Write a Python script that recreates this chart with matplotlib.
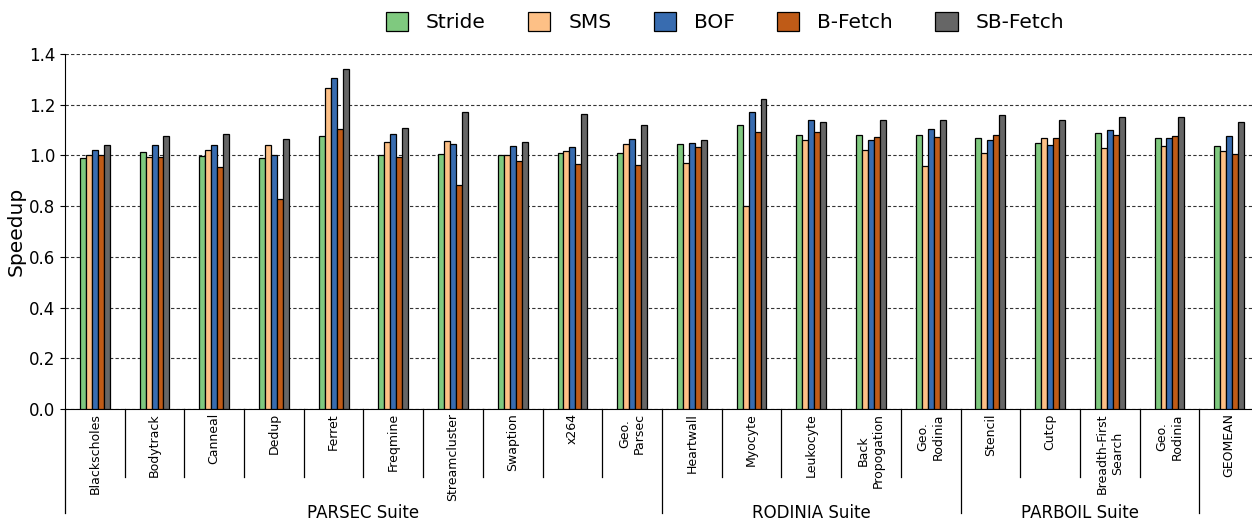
import matplotlib
matplotlib.use("Agg")
import matplotlib.pyplot as plt
import numpy as np

benchmarks = ["Blackscholes", "Bodytrack", "Canneal", "Dedup", "Ferret", "Freqmine",
              "Streamcluster", "Swaption", "x264", "Geo.\nParsec",
              "Heartwall", "Myocyte", "Leukocyte", "Back\nPropogation", "Geo.\nRodinia",
              "Stencil", "Cutcp", "Breadth-First\nSearch", "Geo.\nRodinia", "GEOMEAN"]
schemes = ["Stride", "SMS", "BOF", "B-Fetch", "SB-Fetch"]
stride = [0.991, 1.014, 0.997, 0.989, 1.075, 1.001, 1.007, 1.000, 1.011, 1.011,
          1.046, 1.121, 1.082, 1.082, 1.082, 1.070, 1.050, 1.090, 1.070, 1.038]
sms = [1.000, 0.995, 1.021, 1.040, 1.264, 1.053, 1.058, 1.000, 1.017, 1.046,
       0.971, 0.801, 1.061, 1.020, 0.958, 1.011, 1.070, 1.030, 1.037, 1.018]
bof = [1.021, 1.043, 1.041, 1.000, 1.307, 1.086, 1.046, 1.036, 1.034, 1.066,
       1.050, 1.171, 1.141, 1.062, 1.105, 1.061, 1.041, 1.101, 1.067, 1.075]
bfetch = [1.000, 0.993, 0.955, 0.827, 1.103, 0.995, 0.884, 0.976, 0.967, 0.963,
          1.032, 1.091, 1.091, 1.071, 1.071, 1.082, 1.070, 1.082, 1.078, 1.007]
sbfetch = [1.041, 1.078, 1.086, 1.066, 1.340, 1.108, 1.173, 1.054, 1.165, 1.120,
           1.062, 1.221, 1.132, 1.141, 1.138, 1.161, 1.141, 1.151, 1.151, 1.130]
suites = ["PARSEC Suite", "RODINIA Suite", "PARBOIL Suite"]
suite_edges = [0, 10, 15, 19]

colors = ["#7fc97f", "#fdc086", "#386cb0", "#bf5b17", "#666666"]
series = [stride, sms, bof, bfetch, sbfetch]

fig = plt.figure(figsize=(12.52, 5.21), dpi=100)
ax = fig.add_axes([0.0519, 0.215, 0.9537, 0.6814])

x = np.arange(len(benchmarks))
w = 0.1
for k, (vals, c, name) in enumerate(zip(series, colors, schemes)):
    ax.bar(x + (k - 2) * w, vals, w, color=c, edgecolor="black", linewidth=0.9,
           label=name, zorder=3)

ax.set_xlim(-0.5, len(benchmarks) - 0.5)
ax.set_ylim(0, 1.4)
ax.set_yticks(np.arange(0, 1.41, 0.2))
ax.set_yticklabels([f"{v:.1f}" for v in np.arange(0, 1.41, 0.2)], fontsize=12)
ax.yaxis.grid(True, linestyle=(0, (3, 2)), color="black", linewidth=0.8, alpha=0.8, zorder=0)
ax.set_axisbelow(True)
ax.set_ylabel("Speedup", fontsize=14.5, labelpad=2)
ax.spines["top"].set_visible(False)
ax.spines["right"].set_visible(False)

ax.set_xticks(x)
ax.set_xticklabels(benchmarks, rotation=90, fontsize=9, va="top", ha="center",
                   multialignment="center")
ax.tick_params(axis="x", length=0, pad=3)

# group separators below the axis
trans = ax.get_xaxis_transform()
for i in range(1, len(benchmarks)):
    if i in suite_edges:
        continue
    ax.plot([i - 0.5, i - 0.5], [0, -0.1915], color="black", lw=0.9,
            transform=trans, clip_on=False)
for e in suite_edges:
    ax.plot([e - 0.5, e - 0.5], [0, -0.293], color="black", lw=0.9,
            transform=trans, clip_on=False)
for name, a, b in zip(suites, suite_edges[:-1], suite_edges[1:]):
    ax.text((a + b) / 2 - 0.5, -0.293, name, transform=trans, ha="center",
            va="center", fontsize=12)

fig.legend(loc="center", bbox_to_anchor=(0.579, 0.958), ncol=5, frameon=False,
           fontsize=14.5, handlelength=1.1, handleheight=1.1, handletextpad=0.9,
           columnspacing=2.1)

fig.savefig("out.png", dpi=100)
